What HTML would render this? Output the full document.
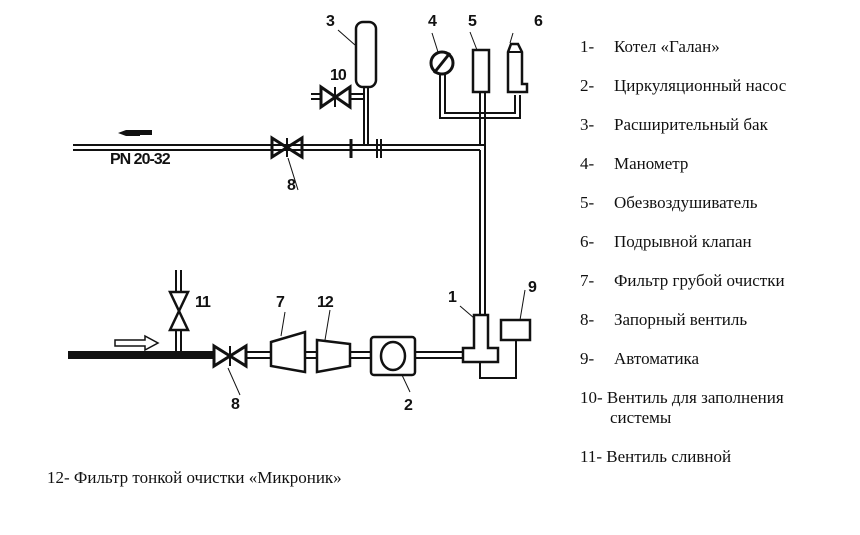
<!DOCTYPE html>
<html><head><meta charset="utf-8"><style>
html,body{margin:0;padding:0;background:#fff;}
svg{display:block}
.t{font-family:"Liberation Sans Narrow","Liberation Serif",serif;font-size:17px;fill:#111}
.t{font-family:"Liberation Serif",serif;}
.n{font-family:"Liberation Sans",sans-serif;font-weight:bold;font-size:16px;fill:#111;letter-spacing:-1px}
</style></head><body>
<svg width="860" height="535" viewBox="0 0 860 535" xmlns="http://www.w3.org/2000/svg">
<g stroke="#111" fill="none" stroke-width="2">
<line x1="73" y1="145" x2="484" y2="145"/><line x1="73" y1="150" x2="480" y2="150"/>
<line x1="480" y1="150" x2="480" y2="315"/><line x1="485" y1="118" x2="485" y2="315"/>
<line x1="480" y1="118" x2="480" y2="145"/>
<path d="M440 95 V118 H520 V95"/><path d="M445 95 V113 H515 V95"/>
<circle cx="442" cy="63" r="11" stroke-width="3"/><line x1="434" y1="73" x2="450" y2="53" stroke-width="3"/>
<line x1="440" y1="74" x2="440" y2="95"/><line x1="445" y1="74" x2="445" y2="95"/>
<rect x="473" y="50" width="16" height="42" stroke-width="2.5"/>
<line x1="480" y1="92" x2="480" y2="118"/><line x1="485" y1="92" x2="485" y2="118"/>
<path d="M508 92 V52 L511 44 H518 L522 52 V84 H527 V92 Z" stroke-width="2.5"/>
<line x1="508" y1="52" x2="522" y2="52"/>
<rect x="356" y="22" width="20" height="65" rx="7" stroke-width="2.5"/>
<line x1="364" y1="87" x2="364" y2="145"/><line x1="368" y1="87" x2="368" y2="145"/>
<line x1="311" y1="94" x2="320" y2="94"/><line x1="311" y1="99" x2="320" y2="99"/>
<path d="M321 87 L350 107 V87 L321 107 Z" stroke-width="3"/>
<line x1="335" y1="87" x2="335" y2="107"/>
<line x1="350" y1="94" x2="364" y2="94"/><line x1="350" y1="99" x2="364" y2="99"/>
<path d="M272 138 L302 157 V138 L272 157 Z" stroke-width="3"/>
<line x1="287" y1="138" x2="287" y2="157"/>
<line x1="351" y1="139" x2="351" y2="158" stroke-width="3"/>
<line x1="377" y1="139" x2="377" y2="158" stroke-width="2"/><line x1="381" y1="139" x2="381" y2="158"/>
<line x1="68" y1="352" x2="215" y2="352"/><line x1="68" y1="358" x2="215" y2="358"/>
<line x1="68" y1="355" x2="215" y2="355" stroke-width="4"/>
<line x1="176" y1="270" x2="176" y2="292"/><line x1="181" y1="270" x2="181" y2="292"/>
<path d="M170 292 H188 L170 330 H188 Z" stroke-width="2.5"/>
<line x1="176" y1="330" x2="176" y2="352"/><line x1="181" y1="330" x2="181" y2="352"/>
<path d="M115 340 H145 V336 L158 343 L145 350 V346 H115 Z" stroke-width="1.5"/>
<path d="M214 346 L246 366 V346 L214 366 Z" stroke-width="3"/>
<line x1="230" y1="346" x2="230" y2="366"/>
<line x1="246" y1="352" x2="270" y2="352"/><line x1="246" y1="358" x2="270" y2="358"/>
<path d="M271 342 L305 332 V372 L271 366 Z" stroke-width="2.5"/>
<line x1="305" y1="352" x2="316" y2="352"/><line x1="305" y1="358" x2="316" y2="358"/>
<path d="M317 340 L350 344 V366 L317 372 Z" stroke-width="2.5"/>
<line x1="350" y1="352" x2="370" y2="352"/><line x1="350" y1="358" x2="370" y2="358"/>
<rect x="371" y="337" width="44" height="38" rx="3" stroke-width="2.5"/>
<ellipse cx="393" cy="356" rx="12" ry="14" stroke-width="2.5"/>
<line x1="415" y1="352" x2="463" y2="352"/><line x1="415" y1="358" x2="463" y2="358"/>
<path d="M474 348 V315 H488 V348 H498 V362 H463 V348 Z" stroke-width="2.5"/>
<rect x="501" y="320" width="29" height="20" stroke-width="2.5"/>
<path d="M516 340 V378 H480 V362"/>
<g stroke-width="1">
<line x1="338" y1="30" x2="355" y2="45"/><line x1="432" y1="33" x2="438" y2="52"/>
<line x1="470" y1="32" x2="477" y2="50"/><line x1="513" y1="33" x2="510" y2="43"/>
<line x1="288" y1="158" x2="298" y2="190"/><line x1="460" y1="306" x2="474" y2="318"/>
<line x1="525" y1="290" x2="520" y2="320"/><line x1="402" y1="375" x2="410" y2="392"/>
<line x1="228" y1="368" x2="240" y2="395"/><line x1="285" y1="312" x2="281" y2="336"/>
<line x1="330" y1="310" x2="325" y2="340"/>
</g>
</g>
<path d="M118 133 L126 130 H140 V136 H126 Z" fill="#111"/><rect x="140" y="130" width="12" height="5" fill="#111"/>
<text class="n" x="110" y="164" font-size="14">PN 20-32</text>
<text class="n" x="326" y="26">3</text><text class="n" x="428" y="26">4</text>
<text class="n" x="468" y="26">5</text><text class="n" x="534" y="26">6</text>
<text class="n" x="330" y="80">10</text><text class="n" x="287" y="190">8</text>
<text class="n" x="195" y="307">11</text><text class="n" x="276" y="307">7</text>
<text class="n" x="317" y="307">12</text><text class="n" x="448" y="302">1</text>
<text class="n" x="528" y="292">9</text><text class="n" x="231" y="409">8</text>
<text class="n" x="404" y="410">2</text>
<g class="t">
<text x="580" y="52">1-</text><text x="614" y="52">Котел «Галан»</text>
<text x="580" y="91">2-</text><text x="614" y="91">Циркуляционный насос</text>
<text x="580" y="130">3-</text><text x="614" y="130">Расширительный бак</text>
<text x="580" y="169">4-</text><text x="614" y="169">Манометр</text>
<text x="580" y="208">5-</text><text x="614" y="208">Обезвоздушиватель</text>
<text x="580" y="247">6-</text><text x="614" y="247">Подрывной клапан</text>
<text x="580" y="286">7-</text><text x="614" y="286">Фильтр грубой очистки</text>
<text x="580" y="325">8-</text><text x="614" y="325">Запорный вентиль</text>
<text x="580" y="364">9-</text><text x="614" y="364">Автоматика</text>
<text x="580" y="403">10- Вентиль для заполнения</text>
<text x="610" y="423">системы</text>
<text x="580" y="462">11- Вентиль сливной</text>
<text x="47" y="483">12- Фильтр тонкой очистки «Микроник»</text>
</g>
</svg>
</body></html>
